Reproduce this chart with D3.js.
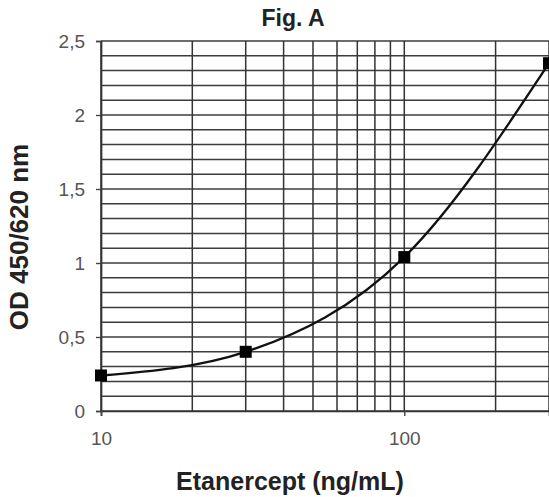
<!DOCTYPE html>
<html>
<head>
<meta charset="utf-8">
<script src="https://d3js.org/d3.v7.min.js"></script>
<style>
body { margin: 0; background: #fff; }
text { font-family: "Liberation Sans", Arial, sans-serif; }
</style>
</head>
<body>
<div id="chart"></div>
<script>
// data
var conc = [10, 30, 100, 300];
var od = [0.24, 0.40, 1.04, 2.35];
var yTicks = [0, 0.5, 1, 1.5, 2, 2.5];
var xTicks = [10, 100];

var W = 549, H = 497;
var margin = {top: 41, right: 0, bottom: 86, left: 101};
var width = W - margin.left - margin.right,
    height = H - margin.top - margin.bottom;

var svg = d3.select("#chart").append("svg")
    .attr("width", W).attr("height", H);
var g = svg.append("g")
    .attr("transform", "translate(" + margin.left + "," + margin.top + ")");

var x = d3.scaleLog().domain([10, 300]).range([0, width]);
var y = d3.scaleLinear().domain([0, 2.5]).range([height, 0]);

// horizontal grid every 0.1
g.selectAll(".hgrid")
  .data(d3.range(0, 26).map(function(i) { return i / 10; }))
  .enter().append("line")
    .attr("x1", 0).attr("x2", width)
    .attr("y1", function(d) { return y(d); })
    .attr("y2", function(d) { return y(d); })
    .attr("stroke", "#3c3c3c").attr("stroke-width", 1.5);

// vertical grid at 10,20,...,100,200,300
var vg = d3.range(1, 11).map(function(i) { return i * 10; }).concat([200, 300]);
g.selectAll(".vgrid")
  .data(vg)
  .enter().append("line")
    .attr("x1", function(d) { return x(d); })
    .attr("x2", function(d) { return x(d); })
    .attr("y1", 0).attr("y2", height)
    .attr("stroke", "#333").attr("stroke-width", 1.5);

// y axis
var yAxis = g.append("g")
  .call(d3.axisLeft(y).tickValues(yTicks).tickSize(5).tickPadding(11)
    .tickFormat(function(d) { return String(d).replace(".", ","); }));
yAxis.select(".domain").attr("stroke", "#333").attr("stroke-width", 1.7);
yAxis.selectAll(".tick line").attr("stroke", "#444").attr("stroke-width", 1.4);
yAxis.selectAll(".tick text")
  .attr("fill", "#555").style("font-size", "19px")
  .style("font-family", "'Liberation Sans', Arial, sans-serif");

// x axis
var xAxis = g.append("g")
  .attr("transform", "translate(0," + height + ")")
  .call(d3.axisBottom(x).tickValues(xTicks).tickSize(5).tickPadding(16)
    .tickFormat(d3.format("d")));
xAxis.select(".domain").attr("stroke", "#333").attr("stroke-width", 1.7);
xAxis.selectAll(".tick line").attr("stroke", "#444").attr("stroke-width", 1.4);
xAxis.selectAll(".tick text")
  .attr("fill", "#555").style("font-size", "19px")
  .style("font-family", "'Liberation Sans', Arial, sans-serif");

// curve
var pts = conc.map(function(c, i) { return [c, od[i]]; });
var line = d3.line()
  .x(function(d) { return x(d[0]); })
  .y(function(d) { return y(d[1]); })
  .curve(d3.curveMonotoneX);
g.append("path")
  .datum(pts)
  .attr("d", line)
  .attr("fill", "none")
  .attr("stroke", "#111")
  .attr("stroke-width", 2.3);

// markers
g.selectAll(".pt")
  .data(pts)
  .enter().append("rect")
    .attr("x", function(d) { return x(d[0]) - 6; })
    .attr("y", function(d) { return y(d[1]) - 6; })
    .attr("width", 12).attr("height", 12)
    .attr("fill", "#000");

// titles
svg.append("text")
  .attr("x", 293).attr("y", 26)
  .attr("text-anchor", "middle")
  .style("font-size", "23px").style("font-weight", "bold")
  .attr("fill", "#222")
  .text("Fig. A");

svg.append("text")
  .attr("x", 290).attr("y", 490)
  .attr("text-anchor", "middle")
  .style("font-size", "25px").style("font-weight", "bold")
  .attr("fill", "#222")
  .text("Etanercept (ng/mL)");

svg.append("text")
  .attr("transform", "translate(28,237) rotate(-90)")
  .attr("text-anchor", "middle")
  .style("font-size", "26px").style("font-weight", "bold")
  .attr("fill", "#222")
  .text("OD 450/620 nm");
</script>
</body>
</html>
